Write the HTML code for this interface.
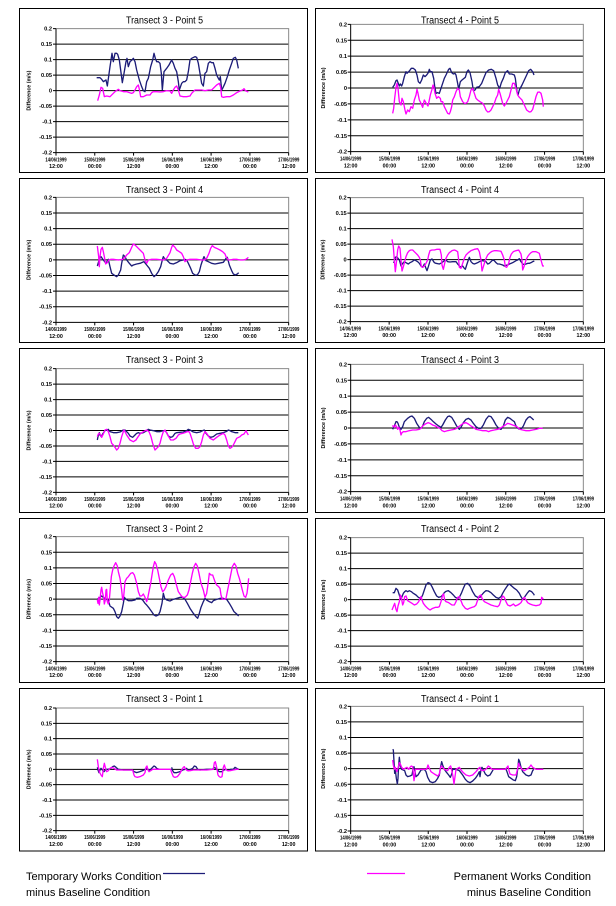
<!DOCTYPE html>
<html><head><meta charset="utf-8"><style>
html,body{margin:0;padding:0;background:#fff;}
svg{display:block;font-family:"Liberation Sans",Arial,sans-serif;}
.g{stroke:#000;stroke-width:3;fill:none}
.gr{stroke:#8a8a8a;stroke-width:3;fill:none}
.yl{font-size:17px;font-weight:bold;text-anchor:end;fill:#000}
.xl{font-size:16px;font-weight:bold;text-anchor:middle;fill:#000}
.yt{font-size:16px;font-weight:bold;text-anchor:middle;fill:#000}
.ti{font-size:10px;text-anchor:middle;fill:#000}
.nv{stroke:#1c1c78;stroke-width:4;fill:none;stroke-linejoin:round}
.mg{stroke:#ff00ff;stroke-width:4;fill:none;stroke-linejoin:round}
.bd{stroke:#000;stroke-width:1;fill:none}
</style></head><body>
<svg width="616" height="906" viewBox="0 0 616 906" xmlns="http://www.w3.org/2000/svg">
<rect width="616" height="906" fill="#fff"/>

<!-- borders -->
<rect class="bd" x="19.5" y="8.5" width="288" height="164"/>
<rect class="bd" x="315.5" y="8.5" width="289" height="164"/>
<rect class="bd" x="19.5" y="178.5" width="288" height="164"/>
<rect class="bd" x="315.5" y="178.5" width="289" height="164"/>
<rect class="bd" x="19.5" y="348.5" width="288" height="164"/>
<rect class="bd" x="315.5" y="348.5" width="289" height="164"/>
<rect class="bd" x="19.5" y="518.5" width="288" height="164"/>
<rect class="bd" x="315.5" y="518.5" width="289" height="164"/>
<rect class="bd" x="19.5" y="688.5" width="288" height="162.5"/>
<rect class="bd" x="315.5" y="688.5" width="289" height="162.5"/>

<!-- titles -->
<text class="ti" x="164.5" y="23.7" textLength="77" lengthAdjust="spacingAndGlyphs">Transect 3 - Point 5</text>
<text class="ti" x="460" y="23.7" textLength="78" lengthAdjust="spacingAndGlyphs">Transect 4 - Point 5</text>
<text class="ti" x="164.5" y="193" textLength="77" lengthAdjust="spacingAndGlyphs">Transect 3 - Point 4</text>
<text class="ti" x="460" y="193" textLength="78" lengthAdjust="spacingAndGlyphs">Transect 4 - Point 4</text>
<text class="ti" x="164.5" y="363" textLength="77" lengthAdjust="spacingAndGlyphs">Transect 3 - Point 3</text>
<text class="ti" x="460" y="363" textLength="78" lengthAdjust="spacingAndGlyphs">Transect 4 - Point 3</text>
<text class="ti" x="164.5" y="532" textLength="77" lengthAdjust="spacingAndGlyphs">Transect 3 - Point 2</text>
<text class="ti" x="460" y="532" textLength="78" lengthAdjust="spacingAndGlyphs">Transect 4 - Point 2</text>
<text class="ti" x="164.5" y="702" textLength="77" lengthAdjust="spacingAndGlyphs">Transect 3 - Point 1</text>
<text class="ti" x="460" y="702" textLength="78" lengthAdjust="spacingAndGlyphs">Transect 4 - Point 1</text>

<!-- ===== PANEL 1 frame ===== -->
<g transform="translate(0,0) scale(0.33333) translate(168,86)">
<path class="g" d="M0 46.5H698M0 93H698M0 139.5H698M0 186H698M0 232.5H698M0 279H698M0 325.5H698"/>
<path class="gr" d="M0 0H698V372"/>
<path class="g" d="M0 0V372H698M-9 0H0M-9 46.5H0M-9 93H0M-9 139.5H0M-9 186H0M-9 232.5H0M-9 279H0M-9 325.5H0M-9 372H0M0 372V381M116.3 372V381M232.7 372V381M349 372V381M465.3 372V381M581.7 372V381M698 372V381"/>
<text class="yl" x="-12" y="6">0.2</text><text class="yl" x="-12" y="52.5">0.15</text><text class="yl" x="-12" y="99">0.1</text><text class="yl" x="-12" y="145.5">0.05</text><text class="yl" x="-12" y="192">0</text><text class="yl" x="-12" y="238.5">-0.05</text><text class="yl" x="-12" y="285">-0.1</text><text class="yl" x="-12" y="331.5">-0.15</text><text class="yl" x="-12" y="378">-0.2</text>
<text class="xl" x="0" y="398" textLength="64" lengthAdjust="spacingAndGlyphs">14/06/1999</text><text class="xl" x="0" y="418">12:00</text>
<text class="xl" x="116.3" y="398" textLength="64" lengthAdjust="spacingAndGlyphs">15/06/1999</text><text class="xl" x="116.3" y="418">00:00</text>
<text class="xl" x="232.7" y="398" textLength="64" lengthAdjust="spacingAndGlyphs">15/06/1999</text><text class="xl" x="232.7" y="418">12:00</text>
<text class="xl" x="349" y="398" textLength="64" lengthAdjust="spacingAndGlyphs">16/06/1999</text><text class="xl" x="349" y="418">00:00</text>
<text class="xl" x="465.3" y="398" textLength="64" lengthAdjust="spacingAndGlyphs">16/06/1999</text><text class="xl" x="465.3" y="418">12:00</text>
<text class="xl" x="581.7" y="398" textLength="64" lengthAdjust="spacingAndGlyphs">17/06/1999</text><text class="xl" x="581.7" y="418">00:00</text>
<text class="xl" x="698" y="398" textLength="64" lengthAdjust="spacingAndGlyphs">17/06/1999</text><text class="xl" x="698" y="418">12:00</text>
<text class="yt" transform="translate(-76,186) rotate(-90)" textLength="120" lengthAdjust="spacingAndGlyphs">Difference (m/s)</text>
</g>
<g transform="translate(0,0) scale(0.33333)">
<polyline class="nv" points="290,233 300,233 305,238 310,245 318,240 322,258 330,200 336,160 340,185 345,160 350,160 353,163 358,180 362,210 367,248 372,220 378,185 381,175 385,200 390,185 396,180 400,175 405,185 410,210 418,240 425,260 430,272 435,275 440,245 445,235 452,200 458,180 462,160 466,175 470,185 475,185 480,190 484,220 487,270 492,215 500,205 507,195 515,180 520,190 525,205 530,215 535,245 538,270 545,250 550,245 555,245 560,240 565,215 570,180 575,175 585,170 590,172 595,190 600,220 605,250 610,258 615,220 620,215 625,190 630,185 635,188 640,188 645,205 650,225 655,235 658,240 661,230 665,270 668,265 675,250 682,230 688,210 695,190 700,175 706,172 710,180 715,205"/>
<polyline class="mg" points="293,302 298,285 303,262 308,265 313,290 320,288 330,290 340,280 345,275 355,268 360,272 370,275 380,275 395,280 400,278 405,270 410,260 415,255 418,268 422,290 430,290 440,285 450,285 455,278 460,275 470,275 480,276 490,275 500,272 510,273 515,280 520,270 525,262 530,258 535,270 540,288 550,290 560,290 570,288 575,280 585,270 595,270 605,270 615,272 625,270 635,270 640,265 650,255 658,250 662,262 665,290 670,292 680,290 690,290 700,285 710,278 720,273 728,270 732,266 736,272 745,276"/>
</g>

<!-- ===== PANEL 2 frame ===== -->
<g transform="translate(306,0) scale(0.33333) translate(134,73) scale(1,1.0269)">
<path class="g" d="M0 46.5H698M0 93H698M0 139.5H698M0 186H698M0 232.5H698M0 279H698M0 325.5H698"/>
<path class="gr" d="M0 0H698V372"/>
<path class="g" d="M0 0V372H698M-9 0H0M-9 46.5H0M-9 93H0M-9 139.5H0M-9 186H0M-9 232.5H0M-9 279H0M-9 325.5H0M-9 372H0M0 372V381M116.3 372V381M232.7 372V381M349 372V381M465.3 372V381M581.7 372V381M698 372V381"/>
<text class="yl" x="-11" y="6">0.2</text><text class="yl" x="-11" y="52.5">0.15</text><text class="yl" x="-11" y="99">0.1</text><text class="yl" x="-11" y="145.5">0.05</text><text class="yl" x="-11" y="192">0</text><text class="yl" x="-11" y="238.5">-0.05</text><text class="yl" x="-11" y="285">-0.1</text><text class="yl" x="-11" y="331.5">-0.15</text><text class="yl" x="-11" y="378">-0.2</text>
<text class="xl" x="0" y="398" textLength="64" lengthAdjust="spacingAndGlyphs">14/06/1999</text><text class="xl" x="0" y="418">12:00</text>
<text class="xl" x="116.3" y="398" textLength="64" lengthAdjust="spacingAndGlyphs">15/06/1999</text><text class="xl" x="116.3" y="418">00:00</text>
<text class="xl" x="232.7" y="398" textLength="64" lengthAdjust="spacingAndGlyphs">15/06/1999</text><text class="xl" x="232.7" y="418">12:00</text>
<text class="xl" x="349" y="398" textLength="64" lengthAdjust="spacingAndGlyphs">16/06/1999</text><text class="xl" x="349" y="418">00:00</text>
<text class="xl" x="465.3" y="398" textLength="64" lengthAdjust="spacingAndGlyphs">16/06/1999</text><text class="xl" x="465.3" y="418">12:00</text>
<text class="xl" x="581.7" y="398" textLength="64" lengthAdjust="spacingAndGlyphs">17/06/1999</text><text class="xl" x="581.7" y="418">00:00</text>
<text class="xl" x="698" y="398" textLength="64" lengthAdjust="spacingAndGlyphs">17/06/1999</text><text class="xl" x="698" y="418">12:00</text>
<text class="yt" transform="translate(-77,186) rotate(-90)" textLength="120" lengthAdjust="spacingAndGlyphs">Difference (m/s)</text>
</g>
<g transform="translate(306,0) scale(0.33333)">
<polyline class="nv" points="260,262 265,255 270,242 273,240 276,248 280,258 283,252 287,258 290,250 295,230 300,215 303,220 310,213 316,205 322,205 328,210 333,225 337,245 342,250 347,240 352,225 357,230 362,225 367,218 370,208 373,215 378,215 383,235 386,258 390,280 395,278 400,280 405,265 410,250 415,235 420,225 428,208 432,205 437,218 442,222 447,220 450,225 455,250 458,268 463,245 468,240 478,232 483,215 487,210 492,218 498,245 502,272 507,270 512,262 520,260 527,250 533,235 540,218 548,210 556,208 563,212 570,235 575,255 581,265 586,248 592,235 598,218 605,212 610,222 617,222 625,225 628,235 633,275 636,285 640,270 648,255 655,240 662,225 668,212 674,208 680,215 684,225"/>
<polyline class="mg" points="260,340 263,325 266,295 270,262 273,250 276,265 280,305 285,315 288,295 292,305 297,330 300,342 305,330 310,335 315,320 320,325 325,300 330,285 333,268 336,280 340,300 345,310 350,322 355,300 358,305 362,312 366,318 370,300 373,285 378,268 381,255 384,262 387,280 392,295 397,290 403,295 405,305 410,305 415,320 420,330 425,340 430,342 433,335 437,320 440,300 445,290 450,275 455,265 460,270 463,290 470,305 475,310 480,310 485,305 490,290 495,270 500,265 505,280 510,295 515,300 522,305 530,310 535,318 540,330 545,336 550,335 555,330 560,320 565,310 570,295 575,285 578,268 582,280 586,295 590,310 595,318 600,310 605,300 610,290 615,270 620,250 625,250 630,265 635,285 640,292 648,300 655,315 662,330 670,336 675,335 680,328 685,310 690,290 695,277 700,276 705,280 710,300 712,320"/>
</g>

<!-- ===== PANEL 3 frame ===== -->
<g transform="translate(0,160) scale(0.33333) translate(168,112) scale(1,1.0081)">
<path class="g" d="M0 46.5H698M0 93H698M0 139.5H698M0 186H698M0 232.5H698M0 279H698M0 325.5H698"/>
<path class="gr" d="M0 0H698V372"/>
<path class="g" d="M0 0V372H698M-9 0H0M-9 46.5H0M-9 93H0M-9 139.5H0M-9 186H0M-9 232.5H0M-9 279H0M-9 325.5H0M-9 372H0M0 372V381M116.3 372V381M232.7 372V381M349 372V381M465.3 372V381M581.7 372V381M698 372V381"/>
<text class="yl" x="-12" y="6">0.2</text><text class="yl" x="-12" y="52.5">0.15</text><text class="yl" x="-12" y="99">0.1</text><text class="yl" x="-12" y="145.5">0.05</text><text class="yl" x="-12" y="192">0</text><text class="yl" x="-12" y="238.5">-0.05</text><text class="yl" x="-12" y="285">-0.1</text><text class="yl" x="-12" y="331.5">-0.15</text><text class="yl" x="-12" y="378">-0.2</text>
<text class="xl" x="0" y="398" textLength="64" lengthAdjust="spacingAndGlyphs">14/06/1999</text><text class="xl" x="0" y="418">12:00</text>
<text class="xl" x="116.3" y="398" textLength="64" lengthAdjust="spacingAndGlyphs">15/06/1999</text><text class="xl" x="116.3" y="418">00:00</text>
<text class="xl" x="232.7" y="398" textLength="64" lengthAdjust="spacingAndGlyphs">15/06/1999</text><text class="xl" x="232.7" y="418">12:00</text>
<text class="xl" x="349" y="398" textLength="64" lengthAdjust="spacingAndGlyphs">16/06/1999</text><text class="xl" x="349" y="418">00:00</text>
<text class="xl" x="465.3" y="398" textLength="64" lengthAdjust="spacingAndGlyphs">16/06/1999</text><text class="xl" x="465.3" y="418">12:00</text>
<text class="xl" x="581.7" y="398" textLength="64" lengthAdjust="spacingAndGlyphs">17/06/1999</text><text class="xl" x="581.7" y="418">00:00</text>
<text class="xl" x="698" y="398" textLength="64" lengthAdjust="spacingAndGlyphs">17/06/1999</text><text class="xl" x="698" y="418">12:00</text>
<text class="yt" transform="translate(-76,186) rotate(-90)" textLength="120" lengthAdjust="spacingAndGlyphs">Difference (m/s)</text>
</g>
<g transform="translate(0,160) scale(0.33333)">
<polyline class="nv" points="292,318 298,298 303,290 310,300 318,310 325,298 330,320 335,340 342,345 350,350 355,345 362,330 365,310 370,285 375,290 380,300 388,310 395,318 400,315 410,312 420,310 432,305 440,315 448,325 455,340 462,350 468,345 475,335 482,320 487,300 490,290 495,298 500,300 510,310 520,312 530,308 540,302 550,300 555,298 560,300 565,310 572,325 578,340 585,345 592,345 598,335 603,315 608,300 612,290 618,302 625,305 635,310 645,312 655,310 670,307 678,295 682,292 688,315 695,332 700,342 706,345 712,342 716,338"/>
<polyline class="mg" points="292,258 296,290 298,320 300,290 303,268 307,262 310,275 313,290 317,312 322,308 326,300 332,298 340,298 355,300 368,298 375,292 380,285 388,278 395,262 400,252 405,255 412,262 420,270 430,280 435,300 440,310 445,300 455,298 470,298 490,300 500,295 510,278 515,262 518,255 525,262 530,270 538,275 545,280 550,290 555,305 560,300 570,298 590,298 605,300 612,300 620,295 627,280 632,265 637,257 643,262 650,265 660,270 668,275 675,282 678,290 685,300 690,300 700,298 710,298 720,300 730,300 738,298 742,295 745,292"/>
</g>

<!-- ===== PANEL 4 frame ===== -->
<g transform="translate(306,160) scale(0.33333) translate(133,113) scale(1.0014,1)">
<path class="g" d="M0 46.5H698M0 93H698M0 139.5H698M0 186H698M0 232.5H698M0 279H698M0 325.5H698"/>
<path class="gr" d="M0 0H698V372"/>
<path class="g" d="M0 0V372H698M-9 0H0M-9 46.5H0M-9 93H0M-9 139.5H0M-9 186H0M-9 232.5H0M-9 279H0M-9 325.5H0M-9 372H0M0 372V381M116.3 372V381M232.7 372V381M349 372V381M465.3 372V381M581.7 372V381M698 372V381"/>
<text class="yl" x="-11" y="6">0.2</text><text class="yl" x="-11" y="52.5">0.15</text><text class="yl" x="-11" y="99">0.1</text><text class="yl" x="-11" y="145.5">0.05</text><text class="yl" x="-11" y="192">0</text><text class="yl" x="-11" y="238.5">-0.05</text><text class="yl" x="-11" y="285">-0.1</text><text class="yl" x="-11" y="331.5">-0.15</text><text class="yl" x="-11" y="378">-0.2</text>
<text class="xl" x="0" y="398" textLength="64" lengthAdjust="spacingAndGlyphs">14/06/1999</text><text class="xl" x="0" y="418">12:00</text>
<text class="xl" x="116.3" y="398" textLength="64" lengthAdjust="spacingAndGlyphs">15/06/1999</text><text class="xl" x="116.3" y="418">00:00</text>
<text class="xl" x="232.7" y="398" textLength="64" lengthAdjust="spacingAndGlyphs">15/06/1999</text><text class="xl" x="232.7" y="418">12:00</text>
<text class="xl" x="349" y="398" textLength="64" lengthAdjust="spacingAndGlyphs">16/06/1999</text><text class="xl" x="349" y="418">00:00</text>
<text class="xl" x="465.3" y="398" textLength="64" lengthAdjust="spacingAndGlyphs">16/06/1999</text><text class="xl" x="465.3" y="418">12:00</text>
<text class="xl" x="581.7" y="398" textLength="64" lengthAdjust="spacingAndGlyphs">17/06/1999</text><text class="xl" x="581.7" y="418">00:00</text>
<text class="xl" x="698" y="398" textLength="64" lengthAdjust="spacingAndGlyphs">17/06/1999</text><text class="xl" x="698" y="418">12:00</text>
<text class="yt" transform="translate(-77,186) rotate(-90)" textLength="120" lengthAdjust="spacingAndGlyphs">Difference (m/s)</text>
</g>
<g transform="translate(306,160) scale(0.33333)">
<polyline class="nv" points="262,308 265,305 268,292 272,290 276,295 280,300 285,318 290,310 295,305 300,308 307,312 312,308 318,305 325,300 330,302 335,305 340,310 345,318 350,322 355,312 360,325 363,332 367,320 370,310 373,300 378,297 385,308 390,310 400,312 408,308 415,302 420,300 425,305 432,306 440,305 450,305 455,312 460,318 465,322 470,318 475,325 478,328 482,315 487,300 490,292 495,305 500,310 505,312 510,310 515,308 520,305 530,302 540,305 545,312 550,310 555,305 560,300 565,302 570,308 575,312 580,312 590,315 595,318 600,316 605,315 610,312 615,310 620,308 625,305 630,302 635,300 640,296 645,305 650,312 655,314 660,312 665,310 670,310 675,308 680,305 685,303"/>
<polyline class="mg" points="258,238 262,260 265,300 268,335 272,300 275,270 278,258 282,265 285,300 288,333 292,320 296,305 300,290 305,278 310,272 315,270 320,270 325,275 330,280 335,285 340,292 343,300 346,320 350,322 355,318 360,310 365,300 368,285 372,272 378,270 385,270 392,268 398,268 402,268 406,285 408,315 412,328 416,310 420,295 425,285 430,278 438,272 445,270 450,272 455,275 458,300 460,322 465,325 470,310 475,295 480,285 487,278 495,272 505,268 515,266 520,275 525,300 528,333 532,320 538,300 545,285 552,278 558,274 565,272 572,272 580,273 585,274 590,285 595,300 598,320 602,322 608,310 612,292 616,282 622,275 630,272 638,270 645,282 648,300 650,330 654,320 660,300 665,290 670,283 675,278 680,275 690,275 700,280 705,300 710,318 714,318"/>
</g>

<!-- ===== PANEL 5 frame ===== -->
<g transform="translate(0,340) scale(0.33333) translate(168,86) scale(1,0.9973)">
<path class="g" d="M0 46.5H698M0 93H698M0 139.5H698M0 186H698M0 232.5H698M0 279H698M0 325.5H698"/>
<path class="gr" d="M0 0H698V372"/>
<path class="g" d="M0 0V372H698M-9 0H0M-9 46.5H0M-9 93H0M-9 139.5H0M-9 186H0M-9 232.5H0M-9 279H0M-9 325.5H0M-9 372H0M0 372V381M116.3 372V381M232.7 372V381M349 372V381M465.3 372V381M581.7 372V381M698 372V381"/>
<text class="yl" x="-12" y="6">0.2</text><text class="yl" x="-12" y="52.5">0.15</text><text class="yl" x="-12" y="99">0.1</text><text class="yl" x="-12" y="145.5">0.05</text><text class="yl" x="-12" y="192">0</text><text class="yl" x="-12" y="238.5">-0.05</text><text class="yl" x="-12" y="285">-0.1</text><text class="yl" x="-12" y="331.5">-0.15</text><text class="yl" x="-12" y="378">-0.2</text>
<text class="xl" x="0" y="398" textLength="64" lengthAdjust="spacingAndGlyphs">14/06/1999</text><text class="xl" x="0" y="418">12:00</text>
<text class="xl" x="116.3" y="398" textLength="64" lengthAdjust="spacingAndGlyphs">15/06/1999</text><text class="xl" x="116.3" y="418">00:00</text>
<text class="xl" x="232.7" y="398" textLength="64" lengthAdjust="spacingAndGlyphs">15/06/1999</text><text class="xl" x="232.7" y="418">12:00</text>
<text class="xl" x="349" y="398" textLength="64" lengthAdjust="spacingAndGlyphs">16/06/1999</text><text class="xl" x="349" y="418">00:00</text>
<text class="xl" x="465.3" y="398" textLength="64" lengthAdjust="spacingAndGlyphs">16/06/1999</text><text class="xl" x="465.3" y="418">12:00</text>
<text class="xl" x="581.7" y="398" textLength="64" lengthAdjust="spacingAndGlyphs">17/06/1999</text><text class="xl" x="581.7" y="418">00:00</text>
<text class="xl" x="698" y="398" textLength="64" lengthAdjust="spacingAndGlyphs">17/06/1999</text><text class="xl" x="698" y="418">12:00</text>
<text class="yt" transform="translate(-76,186) rotate(-90)" textLength="120" lengthAdjust="spacingAndGlyphs">Difference (m/s)</text>
</g>
<g transform="translate(0,340) scale(0.33333)">
<polyline class="nv" points="292,300 294,290 298,278 300,285 304,290 308,282 315,272 320,270 325,268 330,275 340,278 350,278 360,276 370,270 375,270 380,275 385,280 390,288 398,292 405,285 410,280 415,278 420,280 430,278 440,272 445,268 450,270 460,272 470,275 480,275 490,272 495,272 500,278 505,288 512,292 518,290 525,280 530,278 540,277 550,276 560,272 565,268 570,270 580,276 590,278 600,276 608,272 613,270 618,280 625,288 632,292 640,290 650,282 660,280 670,278 680,274 685,270 690,272 695,275 705,278 715,278"/>
<polyline class="mg" points="292,290 295,282 298,280 302,285 305,292 310,282 315,270 320,268 325,275 330,290 335,310 340,315 345,322 350,330 355,325 360,310 365,290 370,275 372,270 375,275 380,285 390,300 400,305 408,300 413,292 420,282 430,275 440,270 447,275 453,290 458,310 465,330 470,325 475,320 480,310 485,290 490,275 495,270 498,275 505,288 512,300 520,300 528,295 535,285 540,282 548,280 555,278 562,275 567,275 570,280 575,295 580,312 587,325 595,325 600,320 605,305 610,285 615,275 620,280 630,295 640,300 650,292 660,285 670,280 675,285 680,300 685,318 690,325 695,322 700,315 705,305 710,295 720,290 725,285 732,282 738,272 742,280 745,285"/>
</g>

<!-- ===== PANEL 6 frame ===== -->
<g transform="translate(306,340) scale(0.33333) translate(134,73) scale(1,1.0269)">
<path class="g" d="M0 46.5H698M0 93H698M0 139.5H698M0 186H698M0 232.5H698M0 279H698M0 325.5H698"/>
<path class="gr" d="M0 0H698V372"/>
<path class="g" d="M0 0V372H698M-9 0H0M-9 46.5H0M-9 93H0M-9 139.5H0M-9 186H0M-9 232.5H0M-9 279H0M-9 325.5H0M-9 372H0M0 372V381M116.3 372V381M232.7 372V381M349 372V381M465.3 372V381M581.7 372V381M698 372V381"/>
<text class="yl" x="-11" y="6">0.2</text><text class="yl" x="-11" y="52.5">0.15</text><text class="yl" x="-11" y="99">0.1</text><text class="yl" x="-11" y="145.5">0.05</text><text class="yl" x="-11" y="192">0</text><text class="yl" x="-11" y="238.5">-0.05</text><text class="yl" x="-11" y="285">-0.1</text><text class="yl" x="-11" y="331.5">-0.15</text><text class="yl" x="-11" y="378">-0.2</text>
<text class="xl" x="0" y="398" textLength="64" lengthAdjust="spacingAndGlyphs">14/06/1999</text><text class="xl" x="0" y="418">12:00</text>
<text class="xl" x="116.3" y="398" textLength="64" lengthAdjust="spacingAndGlyphs">15/06/1999</text><text class="xl" x="116.3" y="418">00:00</text>
<text class="xl" x="232.7" y="398" textLength="64" lengthAdjust="spacingAndGlyphs">15/06/1999</text><text class="xl" x="232.7" y="418">12:00</text>
<text class="xl" x="349" y="398" textLength="64" lengthAdjust="spacingAndGlyphs">16/06/1999</text><text class="xl" x="349" y="418">00:00</text>
<text class="xl" x="465.3" y="398" textLength="64" lengthAdjust="spacingAndGlyphs">16/06/1999</text><text class="xl" x="465.3" y="418">12:00</text>
<text class="xl" x="581.7" y="398" textLength="64" lengthAdjust="spacingAndGlyphs">17/06/1999</text><text class="xl" x="581.7" y="418">00:00</text>
<text class="xl" x="698" y="398" textLength="64" lengthAdjust="spacingAndGlyphs">17/06/1999</text><text class="xl" x="698" y="418">12:00</text>
<text class="yt" transform="translate(-77,186) rotate(-90)" textLength="120" lengthAdjust="spacingAndGlyphs">Difference (m/s)</text>
</g>
<g transform="translate(306,340) scale(0.33333)">
<polyline class="nv" points="260,268 265,258 270,245 273,245 276,250 280,262 285,268 290,260 295,245 300,240 305,235 312,230 318,228 325,235 332,250 340,262 345,265 350,258 355,245 362,235 368,232 375,238 382,245 390,252 398,258 405,262 410,255 418,240 425,230 430,228 437,232 445,245 452,258 460,268 465,262 472,248 480,238 487,235 495,240 502,250 510,260 518,265 525,265 532,255 540,238 548,228 555,230 562,240 570,255 578,265 585,268 592,258 598,240 605,232 612,235 618,240 625,245 630,258 637,266 645,268 652,258 660,240 667,232 672,230 678,235 683,240"/>
<polyline class="mg" points="258,258 262,258 265,262 268,255 272,260 275,268 278,262 282,270 285,285 288,278 292,275 300,275 310,272 320,270 330,270 340,268 345,265 350,258 358,252 366,248 372,250 380,255 388,258 395,262 402,265 408,272 415,275 425,272 435,270 445,268 452,265 458,260 465,255 472,250 480,248 487,252 495,258 502,262 510,268 520,270 530,272 540,272 548,275 555,272 565,270 575,268 582,265 590,260 598,255 605,250 612,252 620,255 628,258 635,262 642,268 650,270 660,272 670,272 680,270 690,268 700,265 710,265"/>
</g>

<!-- ===== PANEL 7 frame ===== -->
<g transform="translate(0,510) scale(0.33333) translate(168,80) scale(1,1.0081)">
<path class="g" d="M0 46.5H698M0 93H698M0 139.5H698M0 186H698M0 232.5H698M0 279H698M0 325.5H698"/>
<path class="gr" d="M0 0H698V372"/>
<path class="g" d="M0 0V372H698M-9 0H0M-9 46.5H0M-9 93H0M-9 139.5H0M-9 186H0M-9 232.5H0M-9 279H0M-9 325.5H0M-9 372H0M0 372V381M116.3 372V381M232.7 372V381M349 372V381M465.3 372V381M581.7 372V381M698 372V381"/>
<text class="yl" x="-12" y="6">0.2</text><text class="yl" x="-12" y="52.5">0.15</text><text class="yl" x="-12" y="99">0.1</text><text class="yl" x="-12" y="145.5">0.05</text><text class="yl" x="-12" y="192">0</text><text class="yl" x="-12" y="238.5">-0.05</text><text class="yl" x="-12" y="285">-0.1</text><text class="yl" x="-12" y="331.5">-0.15</text><text class="yl" x="-12" y="378">-0.2</text>
<text class="xl" x="0" y="398" textLength="64" lengthAdjust="spacingAndGlyphs">14/06/1999</text><text class="xl" x="0" y="418">12:00</text>
<text class="xl" x="116.3" y="398" textLength="64" lengthAdjust="spacingAndGlyphs">15/06/1999</text><text class="xl" x="116.3" y="418">00:00</text>
<text class="xl" x="232.7" y="398" textLength="64" lengthAdjust="spacingAndGlyphs">15/06/1999</text><text class="xl" x="232.7" y="418">12:00</text>
<text class="xl" x="349" y="398" textLength="64" lengthAdjust="spacingAndGlyphs">16/06/1999</text><text class="xl" x="349" y="418">00:00</text>
<text class="xl" x="465.3" y="398" textLength="64" lengthAdjust="spacingAndGlyphs">16/06/1999</text><text class="xl" x="465.3" y="418">12:00</text>
<text class="xl" x="581.7" y="398" textLength="64" lengthAdjust="spacingAndGlyphs">17/06/1999</text><text class="xl" x="581.7" y="418">00:00</text>
<text class="xl" x="698" y="398" textLength="64" lengthAdjust="spacingAndGlyphs">17/06/1999</text><text class="xl" x="698" y="418">12:00</text>
<text class="yt" transform="translate(-76,186) rotate(-90)" textLength="120" lengthAdjust="spacingAndGlyphs">Difference (m/s)</text>
</g>
<g transform="translate(0,510) scale(0.33333)">
<polyline class="nv" points="292,268 296,265 300,262 305,258 310,262 318,268 325,270 330,288 340,295 345,305 350,320 355,325 360,318 365,305 370,280 373,262 378,268 385,272 395,272 405,270 410,265 420,265 428,270 435,280 440,285 448,295 455,305 462,315 468,318 475,315 480,305 486,280 490,250 494,265 500,270 510,273 520,268 530,265 540,262 548,262 555,268 562,280 570,295 580,310 588,320 593,325 598,310 603,292 610,275 615,265 620,270 628,275 635,278 640,272 650,268 660,265 670,265 680,268 688,280 695,292 702,305 710,312 716,318"/>
<polyline class="mg" points="292,270 294,280 296,262 298,285 300,270 303,240 305,232 308,250 311,262 313,282 316,270 318,240 320,238 322,275 325,282 328,270 330,245 334,200 338,180 342,168 347,158 352,168 355,185 360,205 365,240 368,270 371,260 375,215 380,205 385,200 392,190 398,188 403,195 410,220 415,245 420,258 425,258 430,252 435,262 440,275 443,265 447,245 452,220 456,195 460,170 464,155 468,162 473,180 478,205 483,230 488,245 493,240 498,230 505,210 512,195 518,190 523,200 528,220 535,245 542,255 548,262 555,262 562,255 567,240 572,215 577,190 582,170 587,160 592,168 597,190 603,220 610,240 615,262 620,250 625,215 628,190 633,195 638,195 645,215 650,225 656,230 660,235 663,255 667,268 673,268 678,265 682,245 687,220 692,195 697,170 703,160 708,168 713,190 718,205 722,220 727,240 732,258 737,262 741,250 744,225 746,205"/>
</g>

<!-- ===== PANEL 8 frame ===== -->
<g transform="translate(306,510) scale(0.33333) translate(134,83)">
<path class="g" d="M0 46.5H698M0 93H698M0 139.5H698M0 186H698M0 232.5H698M0 279H698M0 325.5H698"/>
<path class="gr" d="M0 0H698V372"/>
<path class="g" d="M0 0V372H698M-9 0H0M-9 46.5H0M-9 93H0M-9 139.5H0M-9 186H0M-9 232.5H0M-9 279H0M-9 325.5H0M-9 372H0M0 372V381M116.3 372V381M232.7 372V381M349 372V381M465.3 372V381M581.7 372V381M698 372V381"/>
<text class="yl" x="-11" y="6">0.2</text><text class="yl" x="-11" y="52.5">0.15</text><text class="yl" x="-11" y="99">0.1</text><text class="yl" x="-11" y="145.5">0.05</text><text class="yl" x="-11" y="192">0</text><text class="yl" x="-11" y="238.5">-0.05</text><text class="yl" x="-11" y="285">-0.1</text><text class="yl" x="-11" y="331.5">-0.15</text><text class="yl" x="-11" y="378">-0.2</text>
<text class="xl" x="0" y="398" textLength="64" lengthAdjust="spacingAndGlyphs">14/06/1999</text><text class="xl" x="0" y="418">12:00</text>
<text class="xl" x="116.3" y="398" textLength="64" lengthAdjust="spacingAndGlyphs">15/06/1999</text><text class="xl" x="116.3" y="418">00:00</text>
<text class="xl" x="232.7" y="398" textLength="64" lengthAdjust="spacingAndGlyphs">15/06/1999</text><text class="xl" x="232.7" y="418">12:00</text>
<text class="xl" x="349" y="398" textLength="64" lengthAdjust="spacingAndGlyphs">16/06/1999</text><text class="xl" x="349" y="418">00:00</text>
<text class="xl" x="465.3" y="398" textLength="64" lengthAdjust="spacingAndGlyphs">16/06/1999</text><text class="xl" x="465.3" y="418">12:00</text>
<text class="xl" x="581.7" y="398" textLength="64" lengthAdjust="spacingAndGlyphs">17/06/1999</text><text class="xl" x="581.7" y="418">00:00</text>
<text class="xl" x="698" y="398" textLength="64" lengthAdjust="spacingAndGlyphs">17/06/1999</text><text class="xl" x="698" y="418">12:00</text>
<text class="yt" transform="translate(-77,186) rotate(-90)" textLength="120" lengthAdjust="spacingAndGlyphs">Difference (m/s)</text>
</g>
<g transform="translate(306,510) scale(0.33333)">
<polyline class="nv" points="260,248 265,248 270,235 275,240 280,255 284,268 288,260 292,250 296,245 300,242 305,245 310,242 316,245 322,250 330,255 337,262 345,265 350,255 355,240 360,225 366,218 372,220 378,230 385,245 392,258 398,262 405,260 410,255 415,248 420,244 427,242 435,248 442,255 448,262 455,265 460,262 466,250 472,235 478,222 485,220 492,228 500,245 508,258 515,262 522,262 527,255 533,248 540,242 547,243 555,248 562,255 570,262 578,265 585,260 590,250 597,238 605,226 610,222 617,228 625,235 632,240 640,250 645,260 650,268 655,262 660,255 665,248 670,242 677,245 683,252 685,256"/>
<polyline class="mg" points="258,300 262,290 266,280 270,298 273,305 276,288 280,275 283,255 286,262 290,285 293,278 296,260 300,258 305,272 310,275 318,280 325,285 332,282 338,275 342,265 345,260 348,270 352,280 358,288 365,295 372,300 380,295 388,292 395,292 400,290 405,275 410,255 413,252 416,270 420,275 428,278 438,285 445,285 450,275 455,262 460,260 463,268 466,275 470,285 478,295 485,298 490,295 498,292 505,290 510,285 515,270 520,258 525,255 528,265 535,275 545,280 555,285 565,288 575,290 580,285 585,270 590,258 595,262 600,275 605,285 612,288 618,285 622,282 628,288 635,285 640,282 645,278 650,268 655,262 660,270 665,278 672,282 680,285 690,287 700,285 705,280 707,262 710,265 712,268"/>
</g>

<!-- ===== PANEL 9 frame ===== -->
<g transform="translate(0,680) scale(0.33333) translate(168,84) scale(1,0.9892)">
<path class="g" d="M0 46.5H698M0 93H698M0 139.5H698M0 186H698M0 232.5H698M0 279H698M0 325.5H698"/>
<path class="gr" d="M0 0H698V372"/>
<path class="g" d="M0 0V372H698M-9 0H0M-9 46.5H0M-9 93H0M-9 139.5H0M-9 186H0M-9 232.5H0M-9 279H0M-9 325.5H0M-9 372H0M0 372V381M116.3 372V381M232.7 372V381M349 372V381M465.3 372V381M581.7 372V381M698 372V381"/>
<text class="yl" x="-12" y="6">0.2</text><text class="yl" x="-12" y="52.5">0.15</text><text class="yl" x="-12" y="99">0.1</text><text class="yl" x="-12" y="145.5">0.05</text><text class="yl" x="-12" y="192">0</text><text class="yl" x="-12" y="238.5">-0.05</text><text class="yl" x="-12" y="285">-0.1</text><text class="yl" x="-12" y="331.5">-0.15</text><text class="yl" x="-12" y="378">-0.2</text>
<text class="xl" x="0" y="398" textLength="64" lengthAdjust="spacingAndGlyphs">14/06/1999</text><text class="xl" x="0" y="418">12:00</text>
<text class="xl" x="116.3" y="398" textLength="64" lengthAdjust="spacingAndGlyphs">15/06/1999</text><text class="xl" x="116.3" y="418">00:00</text>
<text class="xl" x="232.7" y="398" textLength="64" lengthAdjust="spacingAndGlyphs">15/06/1999</text><text class="xl" x="232.7" y="418">12:00</text>
<text class="xl" x="349" y="398" textLength="64" lengthAdjust="spacingAndGlyphs">16/06/1999</text><text class="xl" x="349" y="418">00:00</text>
<text class="xl" x="465.3" y="398" textLength="64" lengthAdjust="spacingAndGlyphs">16/06/1999</text><text class="xl" x="465.3" y="418">12:00</text>
<text class="xl" x="581.7" y="398" textLength="64" lengthAdjust="spacingAndGlyphs">17/06/1999</text><text class="xl" x="581.7" y="418">00:00</text>
<text class="xl" x="698" y="398" textLength="64" lengthAdjust="spacingAndGlyphs">17/06/1999</text><text class="xl" x="698" y="418">12:00</text>
<text class="yt" transform="translate(-76,186) rotate(-90)" textLength="120" lengthAdjust="spacingAndGlyphs">Difference (m/s)</text>
</g>
<g transform="translate(0,680) scale(0.33333)">
<polyline class="nv" points="292,262 294,270 297,278 300,270 303,265 307,270 312,275 318,268 325,268 332,265 338,260 343,258 348,262 355,268 370,270 385,270 398,270 402,275 410,278 420,275 428,272 435,268 440,265 447,270 452,268 458,262 462,258 466,260 470,265 478,268"/>
<polyline class="nv" points="515,262 518,272 522,278 530,278 540,275 548,270 555,268 560,265 565,272 572,268 578,265 583,258 588,260 593,268 600,270 620,268 638,268 642,262 648,265 652,270 658,275 665,275 672,270 678,268 685,272 692,268 700,268 705,262 710,265 716,268"/>
<polyline class="mg" points="292,238 295,260 298,275 303,285 307,290 310,265 313,250 316,262 320,275 325,272 330,265 336,262 342,265 350,270 360,270 380,270 398,270 402,285 405,290 412,292 420,290 430,285 435,278 438,262 441,258 444,270 447,275 452,272 458,268 465,268 470,268 480,268 500,268 512,268 515,278 520,290 525,292 532,290 540,280 545,270 550,262 553,260 557,268 562,272 570,272 580,270 600,270 620,270 640,268 643,248 646,245 650,262 654,285 658,290 662,292 666,290 670,262 673,255 677,268 682,272 690,272 700,270 710,268 716,268"/>
</g>

<!-- ===== PANEL 10 frame ===== -->
<g transform="translate(306,680) scale(0.33333) translate(134,79) scale(1,1.0054)">
<path class="g" d="M0 46.5H698M0 93H698M0 139.5H698M0 186H698M0 232.5H698M0 279H698M0 325.5H698"/>
<path class="gr" d="M0 0H698V372"/>
<path class="g" d="M0 0V372H698M-9 0H0M-9 46.5H0M-9 93H0M-9 139.5H0M-9 186H0M-9 232.5H0M-9 279H0M-9 325.5H0M-9 372H0M0 372V381M116.3 372V381M232.7 372V381M349 372V381M465.3 372V381M581.7 372V381M698 372V381"/>
<text class="yl" x="-11" y="6">0.2</text><text class="yl" x="-11" y="52.5">0.15</text><text class="yl" x="-11" y="99">0.1</text><text class="yl" x="-11" y="145.5">0.05</text><text class="yl" x="-11" y="192">0</text><text class="yl" x="-11" y="238.5">-0.05</text><text class="yl" x="-11" y="285">-0.1</text><text class="yl" x="-11" y="331.5">-0.15</text><text class="yl" x="-11" y="378">-0.2</text>
<text class="xl" x="0" y="398" textLength="64" lengthAdjust="spacingAndGlyphs">14/06/1999</text><text class="xl" x="0" y="418">12:00</text>
<text class="xl" x="116.3" y="398" textLength="64" lengthAdjust="spacingAndGlyphs">15/06/1999</text><text class="xl" x="116.3" y="418">00:00</text>
<text class="xl" x="232.7" y="398" textLength="64" lengthAdjust="spacingAndGlyphs">15/06/1999</text><text class="xl" x="232.7" y="418">12:00</text>
<text class="xl" x="349" y="398" textLength="64" lengthAdjust="spacingAndGlyphs">16/06/1999</text><text class="xl" x="349" y="418">00:00</text>
<text class="xl" x="465.3" y="398" textLength="64" lengthAdjust="spacingAndGlyphs">16/06/1999</text><text class="xl" x="465.3" y="418">12:00</text>
<text class="xl" x="581.7" y="398" textLength="64" lengthAdjust="spacingAndGlyphs">17/06/1999</text><text class="xl" x="581.7" y="418">00:00</text>
<text class="xl" x="698" y="398" textLength="64" lengthAdjust="spacingAndGlyphs">17/06/1999</text><text class="xl" x="698" y="418">12:00</text>
<text class="yt" transform="translate(-77,186) rotate(-90)" textLength="120" lengthAdjust="spacingAndGlyphs">Difference (m/s)</text>
</g>
<g transform="translate(306,680) scale(0.33333)">
<polyline class="nv" points="260,208 262,210 264,245 266,280 268,270 271,295 274,312 276,295 278,255 280,232 283,258 287,268 292,270 296,272 300,285 305,290 312,288 318,285 322,262 324,260 326,270 330,290 336,285 345,270 355,268 360,275 365,292 372,305 380,308 388,305 395,295 400,285 404,260 407,245 410,255 415,268 420,275 428,285 433,292 437,282 440,268 450,268 460,272 470,285 478,298 485,305 492,308 500,303 508,295 515,285 520,275 522,290 525,268 528,262 532,270 538,282 545,288 552,285 558,275 562,268 580,268 600,268 603,275 608,290 615,295 622,300 628,302 632,290 636,260 638,238 641,245 645,262 650,275 660,285 668,288 675,285 680,272 683,268"/>
<polyline class="mg" points="260,240 262,255 265,268 268,262 272,275 276,265 280,248 283,252 287,262 292,268 297,265 303,262 308,268 312,262 316,258 320,260 322,280 324,302 326,290 328,268 335,268 350,268 362,268 366,255 370,265 375,275 385,282 395,288 400,282 403,265 406,258 410,262 415,268 425,272 430,262 434,258 438,275 441,290 444,312 447,290 450,268 455,265 460,262 465,270 472,278 480,285 490,288 500,285 510,275 518,265 522,262 525,270 530,272 537,270 542,265 547,258 552,262 558,268 580,268 598,268 603,262 606,258 608,268 612,282 620,285 630,285 634,270 638,250 642,260 648,268 655,272 662,268 670,262 675,255 680,262 685,265 690,268 700,268 710,268 712,268"/>
</g>

<!-- legend -->
<g font-size="11" fill="#000">
<text x="26" y="880">Temporary Works Condition</text>
<text x="26" y="896">minus Baseline Condition</text>
<text x="591" y="880" text-anchor="end">Permanent Works Condition</text>
<text x="591" y="896" text-anchor="end">minus Baseline Condition</text>
</g>
<line x1="163" y1="873.5" x2="205" y2="873.5" stroke="#1c1c78" stroke-width="1.2"/>
<line x1="367" y1="873.5" x2="405" y2="873.5" stroke="#ff00ff" stroke-width="1.2"/>
</svg>
</body></html>
